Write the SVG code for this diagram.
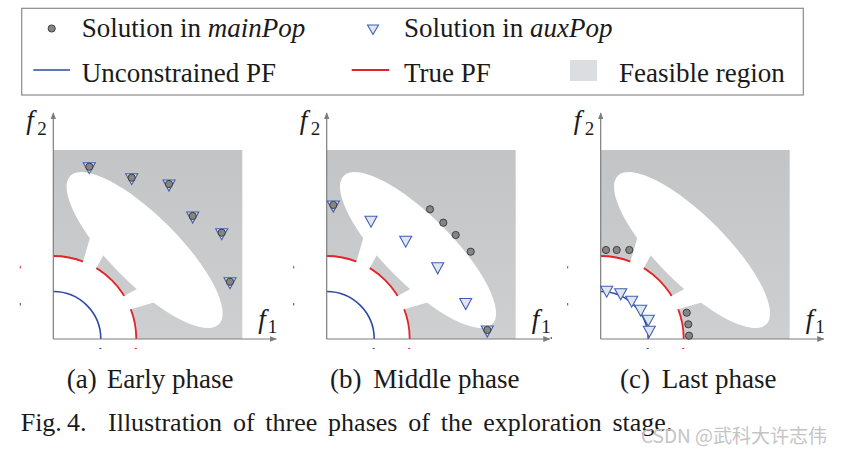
<svg xmlns="http://www.w3.org/2000/svg" width="846" height="454" viewBox="0 0 846 454">
<style>
.t{font-family:"Liberation Serif","Times New Roman",serif;fill:#1a1a1a}
.lg{font-size:27px}
.cap{font-size:27px}
.fig{font-size:26px;word-spacing:4.3px}
.it{font-style:italic}
.ax{stroke:#7d7d7d;stroke-width:1.2;fill:none}
.red{stroke:#e3232b;stroke-width:1.8;fill:none}
.blue{stroke:#2c4aa6;stroke-width:1.6;fill:none}
.dot{fill:#858585;stroke:#3f3f3f;stroke-width:1}
.tri{fill:#e3e5ec;stroke:#3d5fb5;stroke-width:1.1}
.wm{font-family:"Noto Sans CJK SC","Noto Sans",sans-serif;font-size:19px;fill:#c4c4c4}
</style>
<defs>
<linearGradient id="g" x1="0" y1="0" x2="0" y2="1"><stop offset="0" stop-color="#c3c4c6"/><stop offset="1" stop-color="#cecfd1"/></linearGradient>
<marker id="ah" viewBox="0 0 10 10" refX="9" refY="5" markerWidth="6" markerHeight="6" orient="auto"><path d="M0,1 L10,5 L0,9 z" fill="#7d7d7d"/></marker>
<g id="bg">
 <rect x="0" y="-189" width="189" height="189" fill="url(#g)"/>
 <path d="M0,0 L0,-83 A83,83 0 0 1 83,0 Z" fill="#fff"/>
 <path class="red" d="M0,-83 A83,83 0 0 1 83,0"/>
 <ellipse cx="91.3" cy="-89" rx="105" ry="34" transform="rotate(45 91.3 -89)" fill="#fff"/>
 <polygon points="29,-75 39,-109 54,-91 42,-69" fill="#fff"/>
 <polygon points="75,-29 109,-39 91,-54 69,-42" fill="#fff"/>
 <path class="blue" d="M0,-47.5 A47.5,47.5 0 0 1 47.5,0"/>
 <rect x="-33.5" y="-73" width="1" height="2.5" fill="#e3232b"/>
 <rect x="-33.5" y="-36" width="1" height="2.5" fill="#2c4aa6"/>
 <rect x="46" y="9" width="2" height="1" fill="#2c4aa6"/>
 <rect x="81.5" y="9" width="2" height="1" fill="#e3232b"/>
 <line class="ax" x1="0" y1="0" x2="0" y2="-226" marker-end="url(#ah)"/>
 <line class="ax" x1="0" y1="0" x2="223" y2="0" marker-end="url(#ah)"/>
 <text class="t it" x="-27" y="-210" font-size="27">f</text>
 <text class="t" x="-16" y="-204" font-size="19">2</text>
 <text class="t it" x="205" y="-11" font-size="27">f</text>
 <text class="t" x="214.5" y="-6.5" font-size="19">1</text>
</g>
<path id="tr" class="tri" d="M-6,-5.5 L6,-5.5 L0,5.5 Z"/>
<circle id="dt" class="dot" r="3.6"/>
</defs>

<g id="legend">
 <rect x="21.7" y="8.3" width="781.6" height="86.7" fill="#fff" stroke="#8a8a8a" stroke-width="1.2"/>
 <use href="#dt" x="51.7" y="28.5"/>
 <text class="t lg" x="81.7" y="37">Solution in <tspan class="it">mainPop</tspan></text>
 <path class="tri" d="M367.5,25 L378.5,25 L373,34.5 Z"/>
 <text class="t lg" x="404" y="37">Solution in <tspan class="it">auxPop</tspan></text>
 <line class="blue" x1="33.3" y1="70" x2="70" y2="70"/>
 <text class="t lg" x="81.7" y="81.5">Unconstrained PF</text>
 <line class="red" x1="351.7" y1="70" x2="389.3" y2="70"/>
 <text class="t lg" x="404" y="81.5">True PF</text>
 <rect x="570" y="60" width="27" height="21" fill="#dcdde0"/>
 <text class="t lg" x="619" y="81.5">Feasible region</text>
</g>

<g id="panel-a" transform="translate(53.3,339)">
 <use href="#bg"/>
 <use href="#tr" x="36" y="-170.8"/><use href="#dt" x="36" y="-172.3"/>
 <use href="#tr" x="78.4" y="-159.8"/><use href="#dt" x="78.4" y="-161.3"/>
 <use href="#tr" x="115.7" y="-153.5"/><use href="#dt" x="115.7" y="-155"/>
 <use href="#tr" x="139.4" y="-121.5"/><use href="#dt" x="139.4" y="-123"/>
 <use href="#tr" x="168.4" y="-104.8"/><use href="#dt" x="168.4" y="-106.3"/>
 <use href="#tr" x="176.7" y="-55.8"/><use href="#dt" x="176.7" y="-57.3"/>
</g>

<g id="panel-b" transform="translate(326.7,339)">
 <use href="#bg"/>
 <use href="#tr" x="6.6" y="-132.5"/><use href="#dt" x="6.6" y="-134"/>
 <use href="#tr" x="160.6" y="-7.5"/><use href="#dt" x="160.6" y="-9"/>
 <use href="#dt" x="103.3" y="-129.7"/>
 <use href="#dt" x="116.6" y="-116.3"/>
 <use href="#dt" x="129" y="-104"/>
 <use href="#dt" x="144" y="-87.3"/>
 <use href="#tr" x="44.3" y="-117.3"/>
 <use href="#tr" x="79" y="-97.3"/>
 <use href="#tr" x="111" y="-70.7"/>
 <use href="#tr" x="139" y="-35"/>
</g>

<g id="panel-c" transform="translate(600.7,339)">
 <use href="#bg"/>
 <rect x="-50" y="-2" width="1" height="2" fill="#333"/>
 <use href="#dt" x="5.3" y="-89"/>
 <use href="#dt" x="16" y="-89"/>
 <use href="#dt" x="28.6" y="-89"/>
 <use href="#dt" x="86" y="-26.3"/>
 <use href="#dt" x="87.6" y="-14.7"/>
 <use href="#dt" x="88.3" y="-3.3"/>
 <use href="#tr" x="6" y="-47.3"/>
 <use href="#tr" x="20" y="-44.7"/>
 <use href="#tr" x="31" y="-37.3"/>
 <use href="#tr" x="40" y="-28.3"/>
 <use href="#tr" x="47.6" y="-18.3"/>
 <use href="#tr" x="48.6" y="-7.3"/>
</g>

<g id="captions">
 <text class="t cap" y="388"><tspan x="66.7">(a)</tspan><tspan x="106.7">Early phase</tspan></text>
 <text class="t cap" y="388"><tspan x="330">(b)</tspan><tspan x="373.3">Middle phase</tspan></text>
 <text class="t cap" y="388"><tspan x="620">(c)</tspan><tspan x="661.7">Last phase</tspan></text>
 <text class="t fig" y="431"><tspan x="20.7">Fig.</tspan><tspan x="67">4.</tspan><tspan x="108">Illustration of three phases of the exploration stage.</tspan></text>
 <text class="wm" x="641" y="443">CSDN @武科大许志伟</text>
</g>
</svg>
